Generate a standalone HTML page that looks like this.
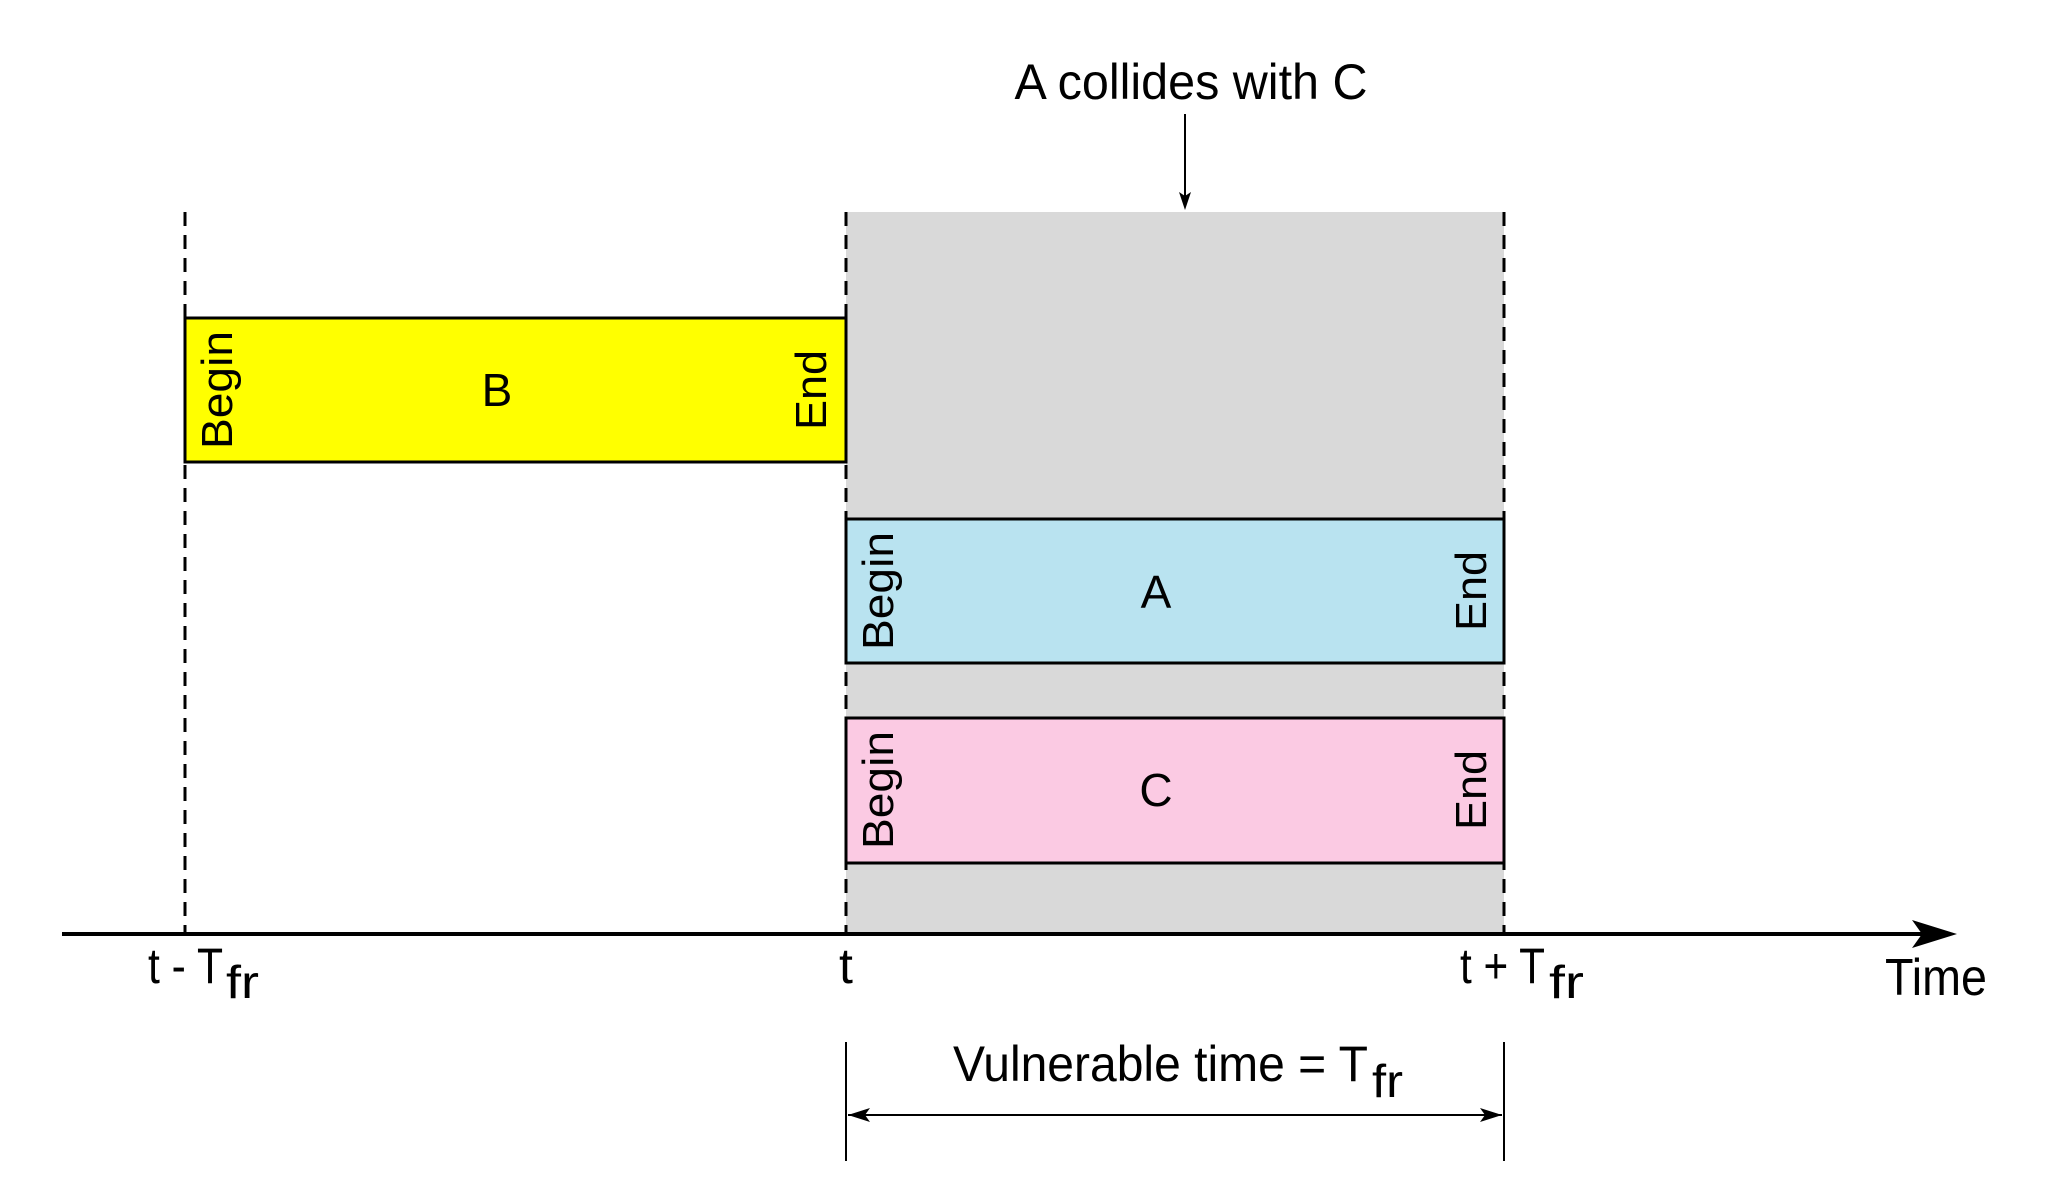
<!DOCTYPE html>
<html><head><meta charset="utf-8"><style>html,body{margin:0;padding:0;background:#fff}svg{display:block}</style></head>
<body>
<svg width="2053" height="1198" viewBox="0 0 2053 1198" xmlns="http://www.w3.org/2000/svg" font-family="Liberation Sans, sans-serif">
<rect x="846" y="212" width="658" height="722" fill="#d9d9d9"/>
<g stroke="#000" stroke-width="3" stroke-dasharray="14,9">
<line x1="185" y1="212" x2="185" y2="934"/>
<line x1="846" y1="212" x2="846" y2="934"/>
<line x1="1504" y1="212" x2="1504" y2="934"/>
</g>
<rect x="185" y="318" width="661" height="144" fill="#ffff00" stroke="#000" stroke-width="3"/>
<rect x="846" y="519" width="658" height="144" fill="#b9e3f0" stroke="#000" stroke-width="3"/>
<rect x="846" y="718" width="658" height="145" fill="#fbcae3" stroke="#000" stroke-width="3"/>
<g font-size="44" text-anchor="middle">
<text transform="translate(232,390) rotate(-90)" textLength="118" lengthAdjust="spacingAndGlyphs">Begin</text>
<text transform="translate(826,390) rotate(-90)" textLength="80" lengthAdjust="spacingAndGlyphs">End</text>
<text transform="translate(893,591) rotate(-90)" textLength="118" lengthAdjust="spacingAndGlyphs">Begin</text>
<text transform="translate(1486,591) rotate(-90)" textLength="80" lengthAdjust="spacingAndGlyphs">End</text>
<text transform="translate(893,790) rotate(-90)" textLength="118" lengthAdjust="spacingAndGlyphs">Begin</text>
<text transform="translate(1486,790) rotate(-90)" textLength="80" lengthAdjust="spacingAndGlyphs">End</text>
</g>
<g font-size="46" text-anchor="middle">
<text x="497" y="406">B</text>
<text x="1156" y="608">A</text>
<text x="1156" y="806">C</text>
</g>
<line x1="62" y1="934" x2="1925" y2="934" stroke="#000" stroke-width="4"/>
<polygon points="1957,934 1912,920 1922,934 1912,948" fill="#000"/>
<g font-size="50">
<text x="1191" y="99" text-anchor="middle" textLength="353" lengthAdjust="spacingAndGlyphs">A collides with C</text>
<text x="148" y="983" textLength="75" lengthAdjust="spacingAndGlyphs">t - T</text>
<text x="226" y="998" font-size="46" textLength="33" lengthAdjust="spacingAndGlyphs">fr</text>
<text x="846" y="983" text-anchor="middle">t</text>
<text x="1460" y="983" textLength="85" lengthAdjust="spacingAndGlyphs">t + T</text>
<text x="1549" y="998" font-size="46" textLength="35" lengthAdjust="spacingAndGlyphs">fr</text>
<text x="1885" y="995" font-size="52" textLength="102" lengthAdjust="spacingAndGlyphs">Time</text>
<text x="953" y="1081" textLength="415" lengthAdjust="spacingAndGlyphs">Vulnerable time = T</text>
<text x="1372" y="1097" font-size="46" textLength="31" lengthAdjust="spacingAndGlyphs">fr</text>
</g>
<line x1="1185" y1="114" x2="1185" y2="200" stroke="#000" stroke-width="2"/>
<polygon points="1185,210 1179,192 1185,196 1191,192" fill="#000"/>
<g stroke="#000" stroke-width="2">
<line x1="846" y1="1042" x2="846" y2="1161"/>
<line x1="1504" y1="1042" x2="1504" y2="1161"/>
<line x1="848" y1="1115" x2="1502" y2="1115"/>
</g>
<polygon points="848,1115 870,1108 865,1115 870,1122" fill="#000"/>
<polygon points="1502,1115 1480,1108 1485,1115 1480,1122" fill="#000"/>
</svg>
</body></html>
